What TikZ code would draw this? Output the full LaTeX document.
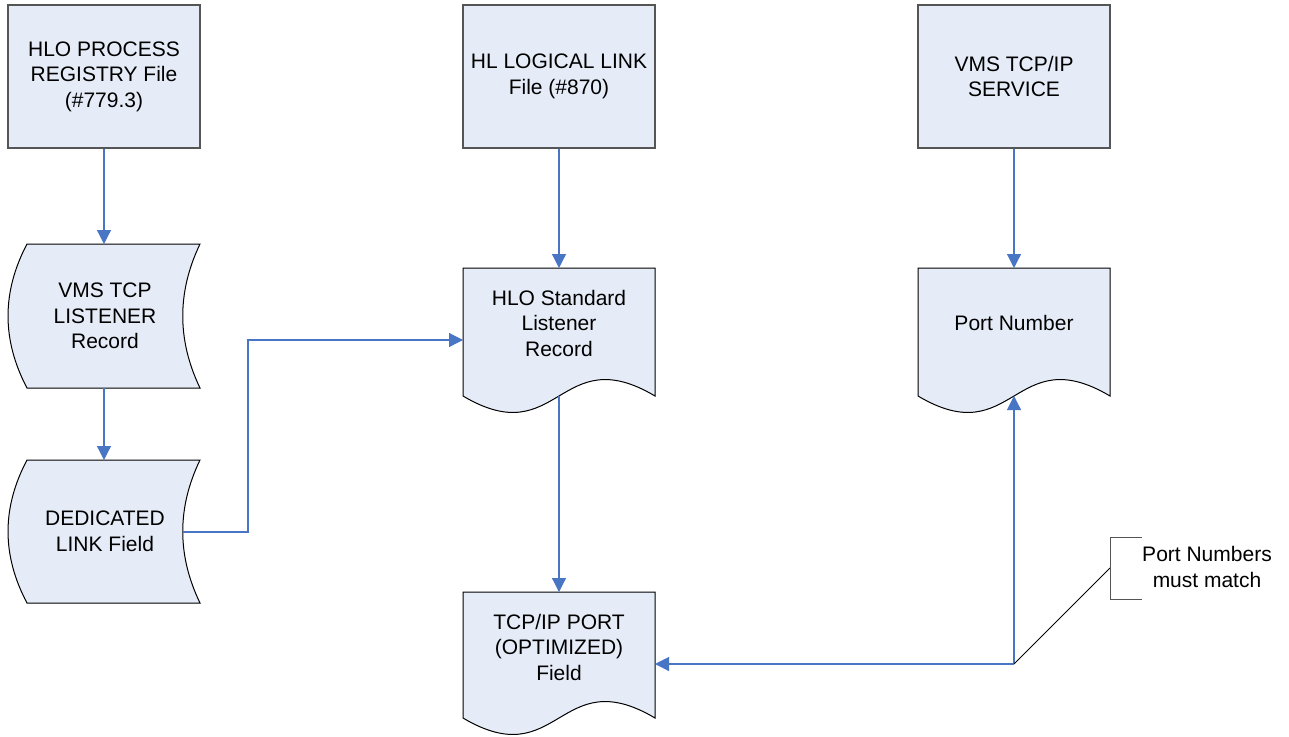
\documentclass[tikz,border=0pt]{standalone}
\usepackage{fontspec}
\setmainfont{Liberation Sans}
\usetikzlibrary{arrows.meta}
\definecolor{fillblue}{RGB}{230,236,247}
\definecolor{arrblue}{RGB}{72,118,196}
\definecolor{boxgray}{RGB}{85,85,85}
\newcommand{\docpath}[4]{% x0, y0, x1, c
  \path[shapeline] (#1,#2) -- (#3,#2) -- (#3,#4)
    .. controls ({(#1+#3)/2},#4-57) and ({(#1+#3)/2},#4+57) .. (#1,#4) -- cycle;}
\newcommand{\storedpath}[2]{% top, bottom
  \path[shapeline] (27,#1) -- (200,#1)
    .. controls (177,{#1+(#2-#1)/3}) and (177,{#1+2*(#2-#1)/3}) .. (200,#2)
    -- (27,#2)
    .. controls (1.7,{#1+2*(#2-#1)/3}) and (1.7,{#1+(#2-#1)/3}) .. (27,#1) -- cycle;}
\begin{document}
\begin{tikzpicture}[x=1pt,y=-1pt,
  shapeline/.style={draw=black, fill=fillblue, line width=1pt},
  boxnode/.style={draw=boxgray, fill=fillblue, line width=1.2pt,
    minimum width=192pt, minimum height=143pt, inner sep=0pt, align=center,
    font=\fontsize{21}{25.5}\selectfont},
  lbl/.style={align=center, font=\fontsize{21}{25.5}\selectfont, inner sep=0pt},
  conn/.style={draw=arrblue, line width=1.2pt, -{Triangle[length=14pt,width=14pt]}},
]
\useasboundingbox[fill=white] (0,0) rectangle (1289,736);

% top boxes
\node[boxnode] (reg) at (104,76.5) {HLO PROCESS\\REGISTRY File\\(\#779.3)};
\node[boxnode] (link) at (559,76.5) {HL LOGICAL LINK\\File (\#870)};
\node[boxnode] (svc) at (1014,76.5) {VMS TCP/IP\\SERVICE};

% stored data shapes
\storedpath{244}{388}
\node[lbl] (vms) at (105,316) {VMS TCP\\LISTENER\\Record};
\coordinate (vmsN) at (104,244);
\coordinate (vmsS) at (104,388);

\storedpath{460}{603}
\node[lbl] (ded) at (105,531.5) {DEDICATED\\LINK Field};
\coordinate (dedN) at (104,460);
\coordinate (dedE) at (183,532);

% documents
\docpath{463}{268}{655}{396}
\node[lbl] (hlo) at (559,323) {HLO Standard\\Listener\\Record};
\coordinate (hloN) at (559,268);
\coordinate (hloW) at (463,340);
\coordinate (hloS) at (559,396);

\docpath{918}{268}{1110}{396}
\node[lbl] (port) at (1014,323) {Port Number};
\coordinate (portN) at (1014,268);
\coordinate (portS) at (1014,396);

\docpath{463}{592}{655}{718}
\node[lbl] (tcp) at (559,647) {TCP/IP PORT\\(OPTIMIZED)\\Field};
\coordinate (tcpN) at (559,592);
\coordinate (tcpE) at (655,664);

% connectors
\draw[conn] (reg.south) -- (vmsN);
\draw[conn] (vmsS) -- (dedN);
\coordinate (bend) at (248,340);
\draw[conn] (dedE) -| (bend) -- (hloW);
\draw[conn] (link.south) -- (hloN);
\draw[conn] (hloS) -- (tcpN);
\draw[conn] (svc.south) -- (portN);
\coordinate (junc) at (1014,664);
\draw[conn] (junc) -- (portS);
\draw[conn] (junc) -- (tcpE);

% annotation
\coordinate (brk) at (1110,568);
\draw[black, line width=0.8pt] (junc) -- (brk);
\draw[boxgray, line width=1pt] (1142,537) -- (1110,537) -- (1110,599) -- (1142,599);
\node[align=center, inner sep=0pt, font=\fontsize{21}{26.5}\selectfont] (note) at (1207,567) {Port Numbers\\must match};
\end{tikzpicture}
\end{document}
